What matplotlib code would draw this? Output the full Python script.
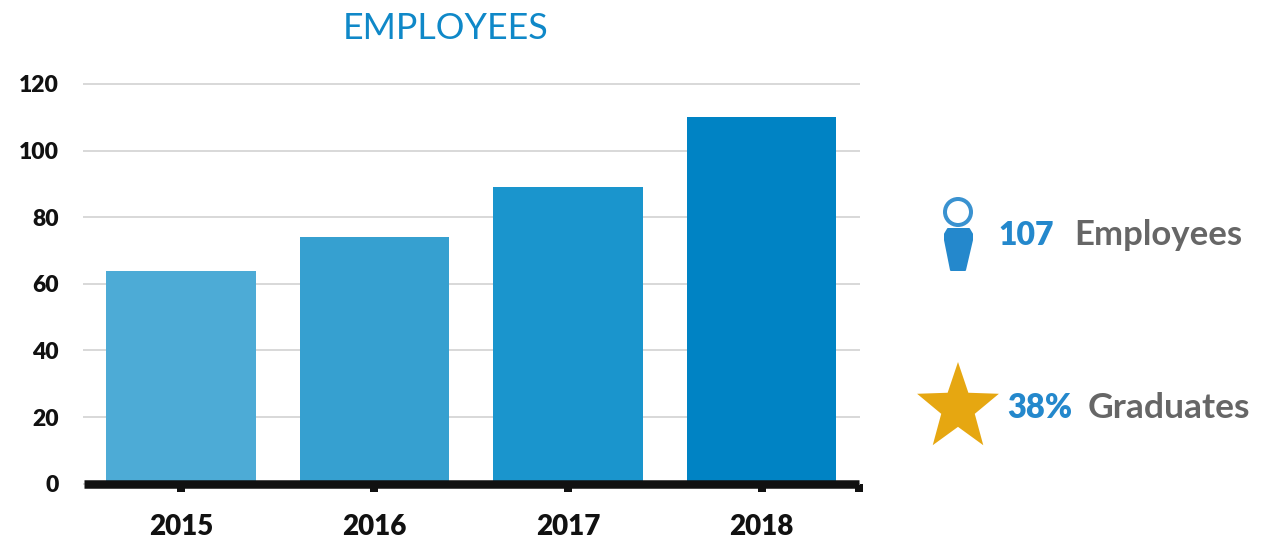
import numpy as np
import matplotlib
matplotlib.use('Agg')
import matplotlib.pyplot as plt
from matplotlib.patches import Circle, Polygon
from matplotlib.path import Path

plt.rcParams['font.family'] = ['Lato', 'DejaVu Sans']

years = ['2015', '2016', '2017', '2018']
employees = [64, 74, 89, 110]
bar_colors = ['#4dabd6', '#36a0d0', '#1a95cd', '#0083c4']
y_ticks = [0, 20, 40, 60, 80, 100, 120]

W, H = 1274, 539
PX = 72 / 100  # points per pixel

fig = plt.figure(figsize=(W / 100, H / 100), dpi=100)
ax = fig.add_axes([84 / W, 1 - 483.7 / H, 774.5 / W, 399.7 / H])

x = np.arange(len(years))
ax.bar(x, employees, width=0.772, color=bar_colors, zorder=2)
ax.set_xlim(-0.5, 3.5)
ax.set_ylim(0, 120)
ax.set_yticks(y_ticks)
ax.set_xticks(x)
ax.set_xticklabels(years, fontsize=20, fontweight='heavy', color='#111111')
ax.set_xticks([3.5], minor=True)
ax.tick_params(axis='x', which='both', length=7.5 * PX, width=8 * PX, color='#111111')
ax.tick_params(axis='x', which='major', pad=23 * PX)
ax.tick_params(axis='y', length=0, pad=25 * PX, labelsize=16.5, labelcolor='#111111')
for lab in ax.get_yticklabels():
    lab.set_fontweight('heavy')

ax.grid(axis='y', color='#d9d9d9', lw=2 * PX, zorder=1)
ax.set_axisbelow(True)
for line in ax.get_ygridlines():
    line.set_clip_on(False)
for s in ['top', 'left', 'right']:
    ax.spines[s].set_visible(False)
ax.spines['bottom'].set_linewidth(8.5 * PX)
ax.spines['bottom'].set_color('#111111')
ax.spines['bottom'].set_capstyle('butt')
ax.spines['bottom'].set_zorder(3)

# overlay in pixel coords for title and the side panel
ov = fig.add_axes([0, 0, 1, 1], facecolor='none')
ov.set_xlim(0, W)
ov.set_ylim(H, 0)
ov.axis('off')

ov.text(445.5, 28.5, 'EMPLOYEES', fontsize=25.8, color='#0f88c8', ha='center', va='center')

blue = '#2488cc'
ov.add_patch(Circle((958, 212), 13, fc='none', ec='#3a92d0', lw=4 * PX))
body = [(948, 229), (969, 229), (972, 234), (972, 240), (965, 270), (951, 270), (945, 240), (945, 234)]
ov.add_patch(Polygon(body, closed=True, fc=blue, ec=blue, lw=2 * PX, joinstyle='round'))

# star is slightly taller than a regular one in the reference
star = Path.unit_regular_star(5, 0.41).vertices * [43, -46] + [958, 408]
ov.add_patch(Polygon(star, closed=True, fc='#e6a711', ec='none'))

ov.text(998.5, 245, '107', fontsize=23, fontweight='heavy', color=blue, va='baseline')
ov.text(1074, 245, 'Employees', fontsize=25, fontweight='bold', color='#666666', va='baseline')
ov.text(1007, 418.5, '38%', fontsize=23.5, fontweight='heavy', color=blue, va='baseline')
ov.text(1088, 418.5, 'Graduates', fontsize=25.5, fontweight='bold', color='#666666', va='baseline')

fig.savefig('out.png', dpi=100)
